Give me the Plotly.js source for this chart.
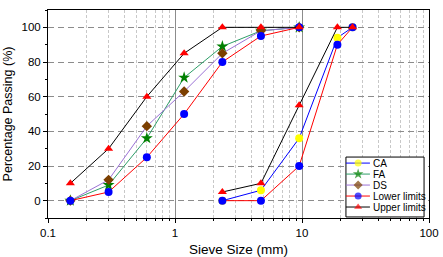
<!DOCTYPE html>
<html>
<head>
<meta charset="utf-8">
<script src="https://cdn.plot.ly/plotly-3.0.1.min.js"></script>
<style>html,body{margin:0;padding:0;background:#fff;}#chart{width:443px;height:257px;}</style>
</head>
<body>
<div id="chart"></div>
<script>
// ---- data ----
const sieveFine = [0.15, 0.3, 0.6, 1.18, 2.36, 4.75, 9.5];
const sieveCoarse = [2.36, 4.75, 9.5, 19, 25];
const faPass = [0, 9, 36, 71, 89, 98, 100];
const dsPass = [0, 12, 43, 63, 85, 98, 100];
const lowerFine = [0, 5, 25, 50, 80, 95, 100];
const upperFine = [10, 30, 60, 85, 100, 100, 100];
const caPass = [0, 6, 36, 94, 100];
const lowerCoarse = [0, 0, 20, 90, 100];
const upperCoarse = [5, 10, 55, 100, 100];
const seriesNames = ['CA', 'FA', 'DS', 'Lower limits', 'Upper limits'];
const xTickVals = [0.1, 1, 10, 100];
const xTickText = ['0.1', '1', '10', '100'];
const yTickVals = [0, 20, 40, 60, 80, 100];

// ---- styles ----
const styles = {
  'CA': {line: '#0000FF', marker: '#FFFF00', symbol: 'circle', size: 8},
  'FA': {line: '#2E9E68', marker: '#008000', symbol: 'star', size: 9},
  'DS': {line: '#9B72D6', marker: '#7B3F00', symbol: 'diamond', size: 8},
  'Lower limits': {line: '#FF0000', marker: '#0000FF', symbol: 'circle', size: 8},
  'Upper limits': {line: '#000000', marker: '#FF0000', symbol: 'triangle-up', size: 8}
};
function tr(x, y, name) {
  const s = styles[name];
  return {
    x: x, y: y, type: 'scatter', mode: 'lines+markers', name: name, showlegend: false,
    line: {color: s.line, width: 1},
    marker: {color: s.marker, symbol: s.symbol, size: s.size, line: {width: 0}},
    cliponaxis: false
  };
}
const traces = [
  tr(sieveCoarse, caPass, 'CA'),
  tr(sieveFine, faPass, 'FA'),
  tr(sieveFine, dsPass, 'DS'),
  tr(sieveFine, lowerFine, 'Lower limits'),
  tr(sieveCoarse, lowerCoarse, 'Lower limits'),
  tr(sieveFine, upperFine, 'Upper limits'),
  tr(sieveCoarse, upperCoarse, 'Upper limits')
];

// ---- custom legend, drawn on an overlay axis pair spanning the plot area (0..1) ----
const font = 'Arial, "Liberation Sans", sans-serif';
const lg = {x0: 0.782, x1: 0.987, y0: 0.005, y1: 0.293, rowTop: 0.264, rowStep: 0.0528,
            lineX0: 0.782, lineX1: 0.845, markX: 0.814, textX: 0.849};
traces.push({
  x: [lg.x0, lg.x1, lg.x1, lg.x0, lg.x0], y: [lg.y0, lg.y0, lg.y1, lg.y1, lg.y0],
  xaxis: 'x2', yaxis: 'y2', type: 'scatter', mode: 'lines', fill: 'toself', fillcolor: '#ffffff',
  line: {color: '#000', width: 1}, showlegend: false, hoverinfo: 'skip', cliponaxis: false
});
const annotations = [];
seriesNames.forEach(function (n, i) {
  const yy = lg.rowTop - i * lg.rowStep;
  const s = styles[n];
  traces.push({x: [lg.lineX0, lg.markX, lg.lineX1], y: [yy, yy, yy], xaxis: 'x2', yaxis: 'y2',
    type: 'scatter', mode: 'lines+markers', showlegend: false, hoverinfo: 'skip', cliponaxis: false,
    line: {color: s.line, width: 1},
    marker: {color: s.marker, symbol: s.symbol, size: [0, s.size - 1, 0], line: {width: 0}}});
  annotations.push({xref: 'paper', yref: 'paper', x: lg.textX, y: yy, xanchor: 'left', yanchor: 'middle',
    text: n, showarrow: false, font: {family: font, size: 10, color: '#000'}});
});

const layout = {
  width: 443, height: 257,
  margin: {l: 48, r: 14, t: 10, b: 39},
  paper_bgcolor: '#fff', plot_bgcolor: '#fff',
  font: {family: font, size: 11.5, color: '#000'},
  showlegend: false,
  xaxis: {
    type: 'log', range: [-1, 2],
    tickvals: xTickVals, ticktext: xTickText,
    showgrid: true, gridcolor: '#8c8c8c', gridwidth: 1,
    ticks: 'outside', ticklen: 4, tickcolor: '#000',
    minor: {dtick: 'D1', showgrid: true, gridcolor: '#c8c8c8', griddash: '3px,2px', ticks: 'outside', ticklen: 2, tickcolor: '#000'},
    showline: true, mirror: true, linecolor: '#000', linewidth: 1,
    zeroline: false,
    title: {text: 'Sieve Size (mm)', font: {family: font, size: 13.5}, standoff: 6}
  },
  yaxis: {
    range: [-10, 110],
    tickvals: yTickVals,
    showgrid: true, gridcolor: '#8c8c8c', griddash: '6px,4px', gridwidth: 1,
    ticks: 'outside', ticklen: 4, tickcolor: '#000',
    minor: {dtick: 10, ticks: 'outside', ticklen: 2, tickcolor: '#000', showgrid: false},
    showline: true, mirror: true, linecolor: '#000', linewidth: 1,
    zeroline: false,
    title: {text: 'Percentage Passing (%)', font: {family: font, size: 12.5}, standoff: 6}
  },
  xaxis2: {overlaying: 'x', range: [0, 1], visible: false, fixedrange: true},
  yaxis2: {overlaying: 'y', range: [0, 1], visible: false, fixedrange: true},
  annotations: annotations
};
Plotly.newPlot('chart', traces, layout, {staticPlot: true, displayModeBar: false});
</script>
</body>
</html>
